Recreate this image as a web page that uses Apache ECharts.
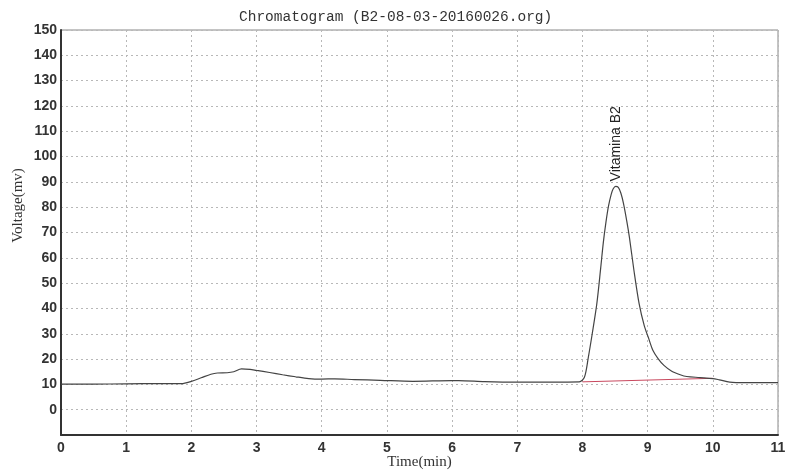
<!DOCTYPE html>
<html>
<head>
<meta charset="utf-8">
<script src="https://cdn.jsdelivr.net/npm/echarts@6/dist/echarts.min.js"></script>
<style>
  html, body { margin: 0; padding: 0; background: #fff; }
  #chart { width: 787px; height: 473px; }
</style>
</head>
<body>
<div id="chart"></div>
<script>
// retention time (min) and detector signal (mV)
const times = [0, 0.5, 1, 1.5, 1.85, 2.0, 2.15, 2.3, 2.4, 2.55, 2.65, 2.77, 2.9, 3.0, 3.2, 3.4, 3.6, 3.8,
  4.0, 4.2, 4.5, 4.9, 5.4, 6.0, 6.1, 6.5, 7.0, 7.5, 7.95, 8.03, 8.09, 8.15, 8.22, 8.28, 8.32, 8.36, 8.4,
  8.44, 8.47, 8.51, 8.55, 8.59, 8.63, 8.68, 8.72, 8.79, 8.87, 8.95, 9.01, 9.08, 9.16, 9.25, 9.37, 9.5,
  9.6, 9.8, 10.0, 10.1, 10.26, 10.5, 11]
const voltage = [10.1, 10.1, 10.2, 10.3, 10.3, 11.2, 12.6, 14.0, 14.5, 14.6, 15.0, 16.1, 15.9, 15.5, 14.7, 13.8, 13.0, 12.3,
  12.1, 12.2, 11.9, 11.6, 11.2, 11.5, 11.5, 11.1, 10.9, 10.9, 11.0, 12.8, 20.7, 30, 41.8, 56, 66, 74, 80.5,
  85, 87.2, 88.2, 87.8, 85.5, 81.4, 74.5, 68.2, 55.0, 41.8, 33, 28.6, 23.5, 20.2, 17.5, 15.2, 13.8,
  13.1, 12.7, 12.3, 11.8, 10.9, 10.7, 10.7]
const peakName = 'Vitamina B2'
// integration baseline under the peak
const baseTimes = [8.0, 10.0]
const baseValues = [11.0, 12.4]

const chart = echarts.init(document.getElementById('chart'))

const gridLine = { show: true, lineStyle: { color: '#b8b8b8', type: [2, 3], width: 1 } }

chart.setOption({
  animation: false,
  title: {
    text: 'Chromatogram (B2-08-03-20160026.org)',
    left: 234,
    top: 5,
    textStyle: { fontFamily: 'Liberation Mono', fontSize: 14.5, fontWeight: 'normal', color: '#333' },
  },
  grid: {
    left: 61, right: 9, top: 30, bottom: 38,
    outerBoundsMode: 'none',
    containLabel: false,
    show: true, borderColor: '#888', borderWidth: 1,
  },
  xAxis: {
    type: 'value',
    min: 0, max: 11, interval: 1,
    name: 'Time(min)',
    nameLocation: 'middle',
    nameGap: 20,
    nameMoveOverlap: false,
    nameTextStyle: { fontFamily: 'Liberation Serif', fontSize: 15, color: '#333' },
    axisLine: { show: true, onZero: false, lineStyle: { color: '#333', width: 2 } },
    axisTick: { show: false },
    axisLabel: { margin: 6, fontFamily: 'Liberation Sans', fontSize: 14, fontWeight: 'bold', color: '#333' },
    splitLine: gridLine,
  },
  yAxis: {
    type: 'value',
    min: -10, max: 150, interval: 10,
    name: 'Voltage(mv)',
    nameLocation: 'middle',
    nameGap: 35,
    nameMoveOverlap: false,
    nameTextStyle: { fontFamily: 'Liberation Serif', fontSize: 15, color: '#333', padding: [0, 0, 0, 54] },
    axisLine: { show: true, onZero: false, lineStyle: { color: '#333', width: 2 } },
    axisTick: { show: false },
    axisLabel: {
      margin: 4, fontFamily: 'Liberation Sans', fontSize: 14, fontWeight: 'bold', color: '#333',
      formatter: (v) => (v < 0 ? '' : v),
    },
    splitLine: gridLine,
  },
  series: [
    {
      type: 'line',
      data: times.map((t, i) => [t, voltage[i]]),
      smooth: 0.3,
      showSymbol: false,
      symbol: 'none',
      lineStyle: { color: '#444', width: 1.2 },
      z: 3,
      markPoint: {
        symbol: 'circle',
        symbolSize: 0,
        data: [{ type: 'max', valueDim: 'y' }],
        label: {
          show: true,
          formatter: peakName,
          position: 'top',
          rotate: 90,
          align: 'left',
          verticalAlign: 'middle',
          distance: 5,
          color: '#222',
          fontFamily: 'Liberation Sans',
          fontSize: 14,
        },
      },
    },
    {
      type: 'line',
      data: baseTimes.map((t, i) => [t, baseValues[i]]),
      symbol: 'none',
      lineStyle: { color: '#c8485e', width: 1 },
      z: 2,
    },
  ],
})

window.addEventListener('resize', () => chart.resize())
</script>
</body>
</html>
